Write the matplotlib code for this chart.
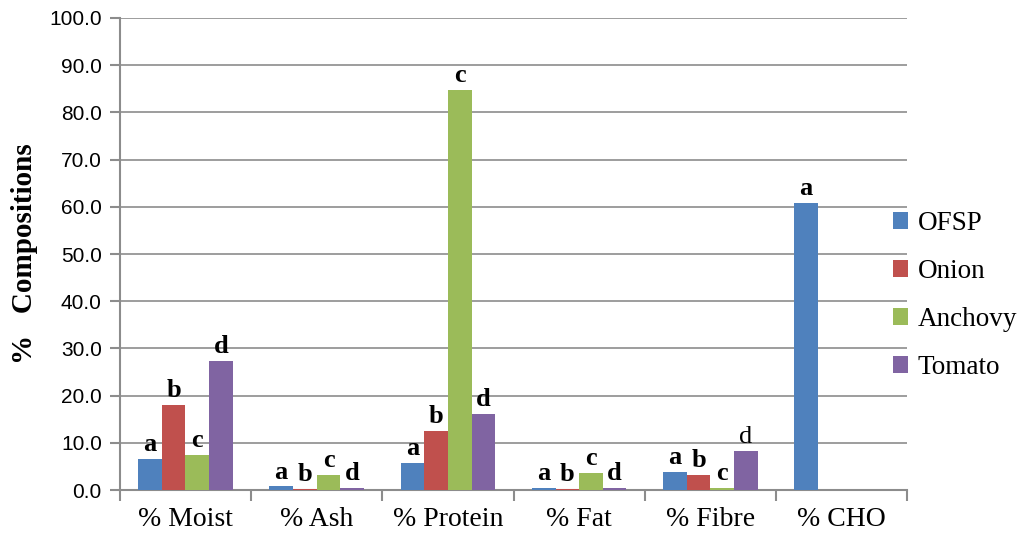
import matplotlib
matplotlib.use("Agg")
import matplotlib.pyplot as plt
import numpy as np

categories = ["% Moist", "% Ash", "% Protein", "% Fat", "% Fibre", "% CHO"]
series = ["OFSP", "Onion", "Anchovy", "Tomato"]
ofsp = [6.7, 0.8, 5.7, 0.5, 3.8, 60.9]
onion = [18.1, 0.2, 12.5, 0.3, 3.3, 0.0]
anchovy = [7.5, 3.3, 84.8, 3.6, 0.4, 0.0]
tomato = [27.4, 0.5, 16.1, 0.5, 8.3, 0.0]
values = [ofsp, onion, anchovy, tomato]

# significance letters per series, per category ("" = none)
letters = [
    ["a", "a", "a", "a", "a", "a"],
    ["b", "b", "b", "b", "b", ""],
    ["c", "c", "c", "c", "c", ""],
    ["d", "d", "d", "d", "d", ""],
]
# Fibre "d" is drawn in regular weight
plain = {(3, 4)}

colors = ["#4F81BD", "#C0504D", "#9BBB59", "#8064A2"]
GRID = "#8c8c8c"
SERIF = "Liberation Serif"

fig = plt.figure(figsize=(10.24, 5.44), dpi=100)
ax = fig.add_axes([0.117, 0.099, 0.769, 0.868])

x = np.arange(len(categories))
width = 0.18

for i, (name, vals, col) in enumerate(zip(series, values, colors)):
    pos = x + (i - 1.5) * width
    ax.bar(pos, vals, width, color=col, label=name, zorder=3)
    for j, (px, v) in enumerate(zip(pos, vals)):
        lab = letters[i][j]
        if not lab:
            continue
        ax.annotate(lab, xy=(px, v), xytext=(0, 2), textcoords="offset points",
                    ha="center", va="bottom", fontsize=19, family=SERIF,
                    fontweight="normal" if (i, j) in plain else "bold",
                    zorder=4)

ax.set_xlim(-0.5, len(categories) - 0.5)
ax.set_ylim(0, 100)
ax.set_yticks(np.arange(0, 101, 10))
ax.set_yticklabels([f"{v:.1f}" for v in np.arange(0, 101, 10)],
                   family="Liberation Sans", fontsize=15)
ax.set_xticks(x)
ax.set_xticklabels(categories, family=SERIF, fontsize=20)
ax.set_xticks(np.arange(-0.5, len(categories)), minor=True)
ax.tick_params(axis="x", which="major", length=0, pad=12)
ax.tick_params(axis="x", which="minor", length=8, color=GRID, width=1.5)
ax.tick_params(axis="y", length=7, color=GRID, width=1.5, pad=6)

ax.grid(axis="y", color=GRID, lw=1.2, zorder=0)
for s in ["top", "right"]:
    ax.spines[s].set_visible(False)
for s in ["left", "bottom"]:
    ax.spines[s].set_color(GRID)
    ax.spines[s].set_linewidth(1.5)

ax.set_ylabel("%   Compositions", family=SERIF, fontweight="bold",
              fontsize=21, labelpad=8)

ax.legend(loc="center left", bbox_to_anchor=(0.982, 0.412), frameon=False,
          prop={"family": SERIF, "size": 19.5}, handlelength=0.55,
          handleheight=0.55, handletextpad=0.35, labelspacing=0.85,
          borderpad=0, borderaxespad=0)

fig.savefig("out.png", dpi=100)
